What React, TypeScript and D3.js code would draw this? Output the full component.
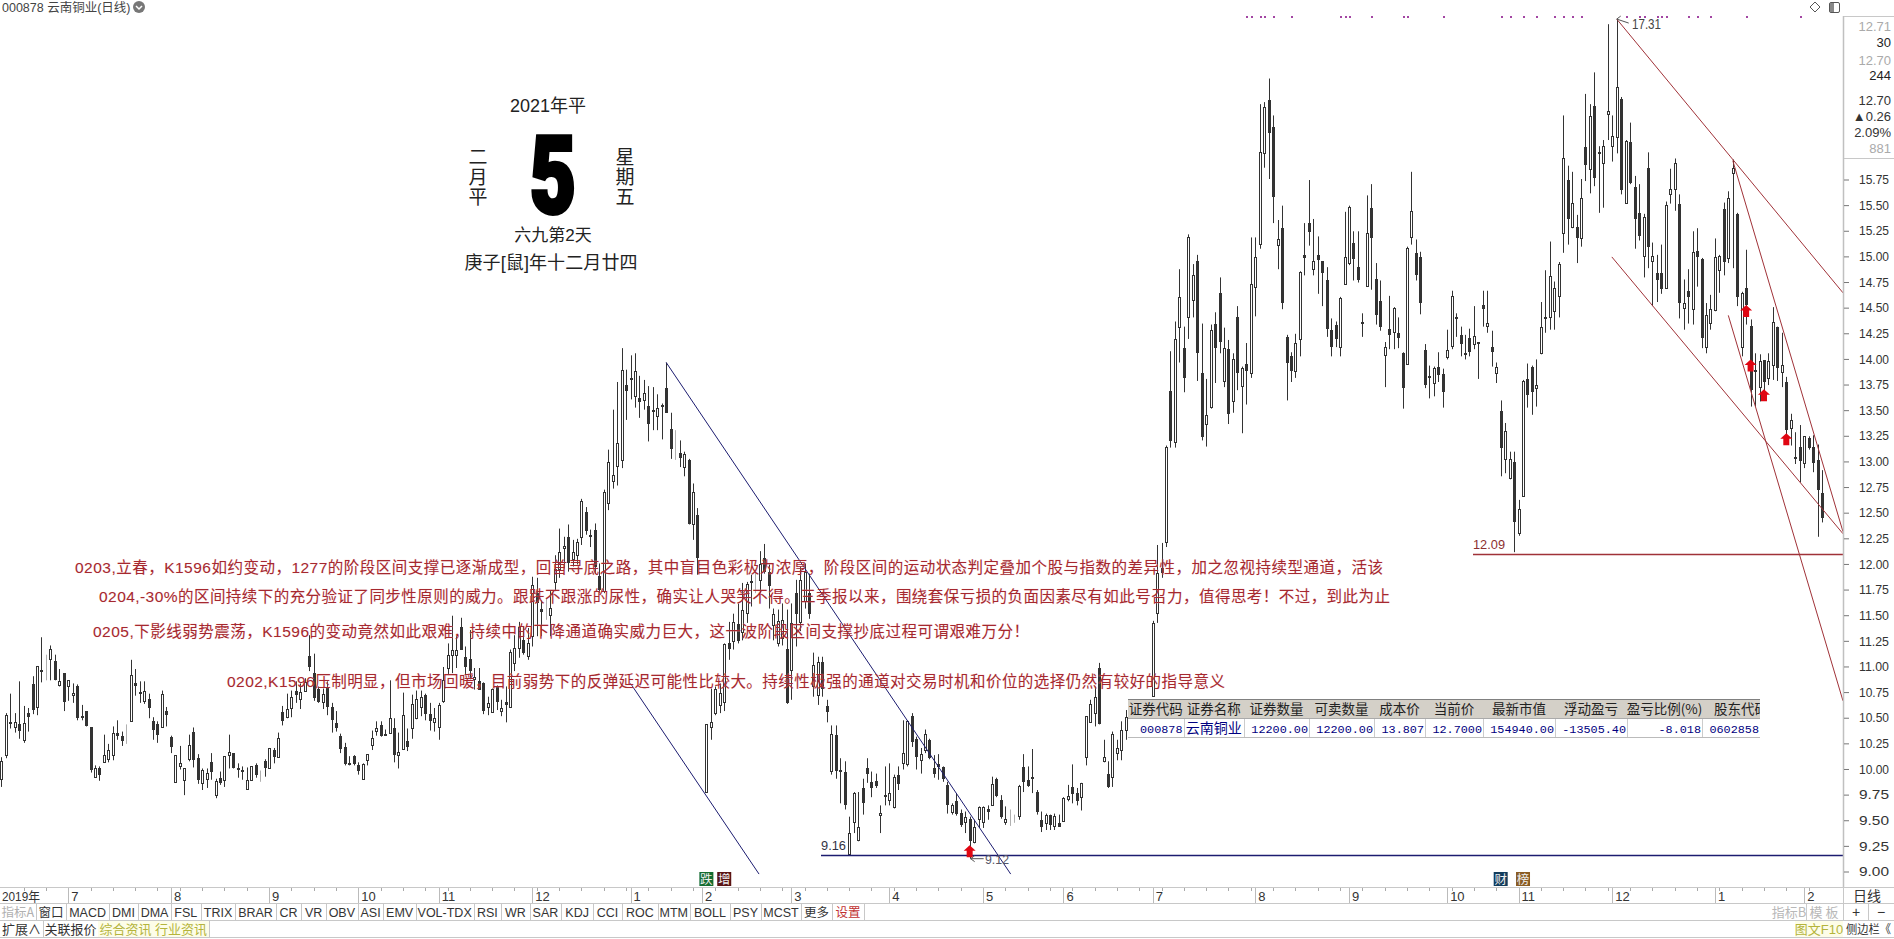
import * as d3 from "d3";
import { useEffect, useRef } from "react";

type Bar = [number, number, number, number] | null;

// daily bars as [open, high, low, close], null where nothing can be seen
const bars2019a: Bar[] = [
  [9.90,10.11,9.82,10.07],[10.13,10.54,10.10,10.52],[10.45,10.73,10.39,10.43],[10.40,10.54,10.35,10.45],[10.43,10.85,10.29,10.37],
  [10.28,10.61,10.25,10.44],[10.54,10.59,10.36,10.50],[10.82,10.90,10.53,10.57],[10.60,11.00,10.52,11.00],[10.96,11.28,10.84,10.94],
  [10.98,11.11,10.86,10.97],[11.07,11.20,10.86,11.17],[11.05,11.11,10.86,10.86],[10.81,10.97,10.80,10.85],[10.93,10.93,10.56,10.65],
  [10.80,10.86,10.66,10.86],[10.72,10.83,10.64,10.74],[10.80,10.82,10.47,10.49],[10.51,10.62,10.47,10.50],[10.56,10.56,10.41,10.41],
  [10.40,10.40,9.96,9.99],[9.92,10.03,9.92,10.00],[10.00,10.02,9.88,9.94],[10.06,10.33,10.06,10.13],[10.09,10.24,10.06,10.18],
  [10.13,10.41,10.08,10.35],[10.35,10.47,10.28,10.32],[10.32,10.36,10.22,10.27],[10.25,10.43,10.24,10.24],[10.46,11.06,10.46,10.91],
  [10.83,10.97,10.71,10.80],[10.75,10.85,10.64,10.74],[10.66,10.85,10.63,10.76],[10.68,10.73,10.49,10.59],[10.46,10.50,10.28,10.38],
  [10.43,10.46,10.25,10.33],[10.40,10.76,10.40,10.73],[10.56,10.60,10.41,10.52],[10.31,10.32,10.15,10.21],[9.87,10.13,9.87,10.13],
  [10.02,10.22,9.99,10.05],[9.89,10.00,9.74,10.00],[10.09,10.33,10.07,10.23],[10.36,10.40,10.01,10.08],[10.10,10.14,9.85,9.89],
  [9.86,10.00,9.79,9.99],[9.90,10.00,9.81,9.96],[10.06,10.15,9.89,9.97],[9.74,9.90,9.71,9.88],[9.91,9.97,9.84,9.86],
  [9.89,10.12,9.82,10.12],[10.13,10.33,10.00,10.16],[10.15,10.15,10.00,10.00],[10.00,10.05,9.91,9.99],[9.99,10.02,9.89,9.98],
  [9.80,10.01,9.79,9.89],[9.89,10.02,9.89,10.02],[10.03,10.05,9.91,9.94],[9.92,9.98,9.87,9.91],[10.07,10.09,9.92,10.00],
  [10.00,10.20,10.00,10.20],[10.18,10.20,10.05,10.11],[10.11,10.35,10.11,10.30],[10.55,10.61,10.42,10.46],[10.50,10.73,10.49,10.58],
  [10.59,10.76,10.50,10.70],[10.76,10.85,10.64,10.72],[10.68,10.83,10.58,10.75],[10.76,10.88,10.75,10.84],[11.10,11.30,10.95,10.99],
  [10.93,11.12,10.66,10.69],[10.78,10.80,10.64,10.65],[10.65,10.78,10.58,10.73],[10.79,10.85,10.52,10.60],[10.60,10.64,10.35,10.47],
  [10.44,10.56,10.36,10.39],[10.32,10.34,10.15,10.19],[10.21,10.25,10.03,10.04],[10.05,10.12,10.03,10.04],[10.12,10.13,10.03,10.04],
  [10.03,10.06,9.94,9.98],[9.90,10.05,9.90,10.04],[10.08,10.14,10.03,10.14],[10.23,10.37,10.18,10.30],[10.37,10.46,10.32,10.39],
  [10.42,10.46,10.31,10.32],[10.34,10.38,10.32,10.32],[10.35,10.86,10.34,10.49],[10.39,10.49,10.06,10.13],[10.13,10.35,10.00,10.16],
  [10.19,10.74,10.18,10.52],[10.27,10.39,10.17,10.21],[10.39,10.72,10.29,10.63],[10.49,10.76,10.48,10.68],[10.60,10.76,10.51,10.70],
  [10.72,10.73,10.47,10.53],[10.53,10.64,10.37,10.46],[10.45,10.59,10.36,10.49],[10.40,10.64,10.28,10.62],[10.66,10.99,10.64,10.86],
  [10.98,11.22,10.92,11.11],[11.11,11.49,10.93,11.16],[11.11,11.29,10.98,11.16],[11.38,11.47,11.16,11.16],[11.09,11.19,10.91,10.99],
  [11.07,11.35,10.87,10.95],[10.87,10.98,10.77,10.89],[10.85,10.98,10.77,10.77],[10.83,10.84,10.53,10.56],[10.60,10.70,10.52,10.64],
  [10.55,10.78,10.55,10.78],[10.80,10.81,10.57,10.65],[10.56,10.67,10.51,10.59],[10.65,10.80,10.45,10.62],[10.60,11.16,10.59,11.14],
  [11.03,11.30,10.95,11.18],[11.18,11.43,11.08,11.38],[11.25,11.38,11.11,11.13],[11.10,11.37,11.06,11.22],[11.29,11.87,11.19,11.79],
  [11.71,11.86,11.29,11.61],[11.56,11.64,11.29,11.53],[11.58,11.66,11.45,11.57],[11.50,11.74,11.29,11.57],[11.82,12.08,11.73,11.95],
  [11.95,12.34,11.86,12.11],[12.15,12.26,11.95,12.17],[12.26,12.38,11.92,12.00],[12.04,12.23,11.97,12.11],[12.08,12.24,11.99,12.21],
  [12.26,12.63,12.18,12.61],[12.50,12.55,12.28,12.32],[12.28,12.33,12.16,12.27],[12.33,12.39,11.90,11.97],[11.88,12.00,11.71,11.74],
  [11.73,12.72,11.71,12.70],
];

const bars2020a: Bar[] = [
  [12.59,13.11,12.52,12.99],[12.80,13.50,12.73,12.86],[12.95,13.77,12.76,13.17],[13.01,14.10,12.93,13.89],[13.74,13.89,13.40,13.68],
  [13.81,14.03,13.60,13.80],[13.63,14.05,13.52,13.88],[13.61,13.83,13.42,13.57],[13.59,13.79,13.50,13.66],[13.54,13.73,13.19,13.36],
  [13.50,13.72,13.30,13.48],[13.44,13.65,13.30,13.52],[13.55,13.56,13.21,13.55],[13.71,13.96,13.47,13.47],[13.31,13.47,13.02,13.12],
  [13.13,13.30,13.01,13.12],[13.08,13.20,12.94,13.03],[12.94,13.09,12.85,13.07],[13.01,13.02,12.38,12.38],[12.38,12.78,12.23,12.70],
  [12.47,12.54,11.89,12.05],null,[9.77,10.43,9.77,10.43],[10.40,10.78,10.28,10.45],[10.54,10.80,10.52,10.78],
  [10.62,10.83,10.54,10.74],[10.65,11.22,10.56,11.21],[11.22,11.43,11.06,11.17],[11.24,11.51,11.16,11.43],[11.41,11.61,11.22,11.24],
  [11.33,11.81,11.25,11.55],[11.52,11.82,11.42,11.80],[11.83,11.89,11.58,11.81],[11.82,11.92,11.71,11.81],[11.84,12.12,11.71,11.99],
  [12.05,12.19,11.90,11.92],[11.92,11.99,11.56,11.78],[11.40,11.56,11.25,11.51],[11.22,11.55,11.19,11.44],[11.27,11.61,11.20,11.45],
  [11.17,11.55,10.63,10.64],[10.96,11.61,10.67,11.42],[11.71,11.84,11.19,11.51],[11.43,11.97,11.34,11.84],[11.63,12.00,11.56,11.92],
  [11.71,11.90,11.46,11.51],[10.80,11.13,10.70,11.01],[10.72,11.09,10.62,11.04],[11.04,11.09,10.70,10.78],[10.61,10.67,10.45,10.55],
  [9.98,10.42,9.94,10.34],[10.33,10.42,9.90,9.98],[9.99,10.10,9.66,9.98],[9.97,10.07,9.60,9.64],[9.17,9.53,9.16,9.37],
  [9.48,9.77,9.37,9.76],[9.30,9.77,9.29,9.43],[9.81,9.90,9.55,9.66],[10.00,10.10,9.86,9.95],[9.87,9.97,9.72,9.81],
  [9.88,9.95,9.81,9.83],[9.55,9.64,9.37,9.57],[9.74,10.02,9.64,9.74],[9.69,10.05,9.64,9.76],[9.62,9.94,9.61,9.92],
  [9.94,10.02,9.79,9.85],[10.05,10.47,9.99,10.15],[10.04,10.47,10.02,10.46],[10.51,10.54,10.21,10.26],[10.29,10.31,9.99,10.11],
  [10.08,10.20,9.95,10.14],[10.18,10.38,10.15,10.34],[10.28,10.29,10.09,10.10],[10.00,10.13,9.91,9.95],[10.04,10.14,9.89,10.01],
  [10.01,10.02,9.87,9.90],[9.84,9.87,9.56,9.64],[9.58,9.66,9.55,9.64],[9.68,9.76,9.54,9.56],[9.57,9.60,9.43,9.45],
  [9.48,9.58,9.37,9.53],[9.51,9.53,9.12,9.29],[9.28,9.50,9.27,9.43],[9.51,9.63,9.42,9.62],[9.48,9.63,9.42,9.62],
  [9.60,9.64,9.50,9.58],[9.64,9.92,9.64,9.85],[9.90,9.91,9.72,9.73],[9.69,9.74,9.51,9.53],[9.48,9.63,9.45,9.51],
  [9.51,9.60,9.44,9.50],[9.50,9.55,9.47,9.49],[9.54,9.84,9.50,9.83],[10.01,10.14,9.77,9.87],[9.89,10.02,9.82,9.83],
  [9.92,10.19,9.76,9.90],[9.77,9.79,9.55,9.58],[9.50,9.58,9.38,9.43],[9.47,9.56,9.40,9.55],[9.55,9.55,9.40,9.45],
  [9.44,9.56,9.40,9.54],[9.47,9.55,9.43,9.43],[9.49,9.72,9.48,9.71],[9.70,9.84,9.68,9.73],[9.82,10.04,9.66,9.75],
  [9.76,9.81,9.64,9.68],[9.72,9.86,9.59,9.86],[10.11,10.51,10.03,10.51],[10.45,10.67,10.45,10.63],[10.54,10.80,10.41,10.70],
  [10.98,11.03,10.43,10.43],[10.07,10.28,10.06,10.11],[9.95,10.07,9.81,9.82],[9.92,10.36,9.82,10.34],[10.15,10.28,10.08,10.20],
  [10.18,10.46,10.08,10.38],[10.38,10.57,10.28,10.50],null,null,null,null,null,
];

const bars2020b: Bar[] = [
  [10.71,11.44,10.70,11.42],[11.52,12.18,11.42,11.91],[11.96,12.20,11.86,11.91],[12.21,13.15,12.16,13.14],[13.68,14.07,13.13,13.19],
  [13.18,14.36,13.13,14.19],[14.31,14.87,13.96,14.60],[14.10,14.31,13.67,13.81],[14.40,15.21,14.19,15.18],[14.57,14.92,14.40,14.81],
  [14.95,15.01,13.78,14.05],[13.86,14.34,13.20,13.23],[13.36,13.80,13.14,13.45],[13.53,14.33,13.51,14.28],[14.34,14.45,13.76,14.10],
  [14.64,14.79,14.05,14.16],[13.78,14.30,13.72,14.10],[14.09,14.18,13.36,13.46],[13.58,14.05,13.47,13.99],[14.40,14.51,13.69,13.86],
  [13.73,13.92,13.27,13.91],[13.95,14.15,13.55,13.88],[13.86,15.18,13.81,14.73],[14.70,15.18,14.41,14.99],[15.12,16.48,15.07,16.01],
  [16.00,16.50,15.86,16.45],[16.52,16.73,15.75,16.20],[16.26,16.37,15.32,15.57],[15.11,15.35,14.87,15.16],[15.27,15.49,14.48,14.54],
  [14.21,14.23,13.59,13.96],[14.02,14.06,13.77,13.88],[13.88,14.24,13.81,14.15],[14.19,14.85,14.02,14.84],[15.01,15.32,14.81,14.98],
  [15.32,15.74,15.10,15.23],[14.87,15.36,14.81,14.95],[15.01,15.19,14.63,14.96],[14.95,14.95,14.51,14.83],[14.76,14.89,14.21,14.29],
  [14.28,14.39,14.02,14.11],[14.33,14.36,14.11,14.19],[14.11,14.60,14.02,14.59],[14.73,15.43,14.72,14.99],[14.93,15.49,14.91,15.48],
  [15.13,15.24,14.76,14.97],[14.89,15.24,14.74,14.76],[14.35,14.44,14.21,14.36],[14.71,15.59,14.70,15.22],[15.47,15.70,14.67,15.17],
  [14.77,14.93,14.33,14.42],[14.56,14.76,14.27,14.31],[14.03,14.16,13.72,14.11],[14.29,14.61,14.09,14.23],[14.26,14.50,14.09,14.49],
  [14.25,14.40,14.10,14.20],[14.05,14.06,13.51,13.71],[13.95,15.09,13.94,15.08],[15.18,15.82,15.11,15.44],[15.03,15.16,14.76,14.81],
  [14.99,15.04,14.43,14.54],[14.08,14.14,13.71,13.74],[13.83,13.93,13.61,13.81],[13.76,13.92,13.63,13.91],[13.92,14.06,13.77,13.84],
  [13.85,13.90,13.52,13.67],[14.01,14.28,13.99,14.08],[14.12,14.66,14.09,14.61],[14.40,14.44,14.21,14.39],[14.23,14.31,14.02,14.14],
  [14.05,14.23,13.99,14.03],[14.20,14.29,14.02,14.06],[14.14,14.51,14.09,14.22],[14.16,14.16,13.80,14.14],[14.52,14.66,14.31,14.48],
  [14.32,14.66,14.25,14.35],[14.11,14.27,13.92,14.06],[13.86,13.96,13.76,13.92],[13.49,13.59,12.85,13.13],[13.02,13.37,12.88,13.29],
  [12.83,13.09,12.82,13.02],[12.99,13.09,12.11,12.40],[12.30,12.62,12.27,12.53],[12.66,13.79,12.65,13.78],[13.80,13.95,13.52,13.64],
  [13.92,13.93,13.45,13.67],[13.71,13.99,13.53,13.74],[14.05,14.55,14.04,14.31],[14.40,14.86,14.25,14.38],[14.40,15.14,14.28,14.80],
  [14.46,14.75,14.28,14.69],[14.61,14.94,14.40,14.92],[15.22,16.37,15.03,15.95],[15.74,15.88,15.11,15.36],[15.28,15.82,15.27,15.52],
  [15.28,15.40,14.93,15.17],[15.17,15.75,15.09,15.56],[16.06,16.58,15.73,15.89],[15.85,16.48,15.61,16.36],[16.46,16.79,15.68,15.76],
  [16.01,16.07,15.42,16.00],[15.91,16.13,15.47,16.07],[16.38,17.26,16.13,16.41],[16.07,16.37,15.92,16.17],[16.16,17.31,16.00,16.65],
  [16.53,16.55,15.60,15.64],[15.52,16.13,15.51,16.12],[16.11,16.30,15.70,15.71],[15.67,15.78,15.07,15.36],[15.42,15.70,15.15,15.19],
  [15.00,15.41,14.79,15.38],[15.86,16.01,14.88,15.09],[14.95,15.13,14.51,15.00],[14.83,15.01,14.55,14.76],[14.83,15.11,14.63,14.68],
  [14.69,15.53,14.68,15.50],[15.60,15.85,15.51,15.65],[15.65,15.95,15.44,15.91],[15.51,15.60,14.39,14.54],[14.49,14.77,14.28,14.54],
  [14.66,14.87,14.34,14.60],[14.48,15.24,14.33,15.04],[15.05,15.27,14.70,14.99],[14.97,14.98,14.10,14.20],[14.11,14.54,14.05,14.42],
  [14.35,14.62,14.28,14.48],
];

const bars2021: Bar[] = [
  [14.47,15.17,14.46,14.99],[14.86,15.01,14.64,15.00],[15.46,15.52,14.81,14.94],[14.98,15.63,14.93,15.56],[15.81,15.94,14.88,15.86],
  [15.41,15.42,14.51,14.60],[14.11,14.65,14.02,14.64],[14.69,15.06,14.33,14.52],[14.32,14.38,13.53,13.69],[13.89,14.05,13.53,13.88],
  [13.72,14.04,13.58,13.97],[13.98,13.98,13.64,13.77],[13.81,14.05,13.74,13.97],[13.94,14.50,13.79,14.36],[14.31,14.31,13.78,13.91],
  [13.87,14.25,13.72,13.94],[13.77,13.82,13.20,13.30],[13.32,13.46,13.15,13.40],[13.04,13.28,12.97,13.03],[13.14,13.35,12.79,13.00],
  [12.98,13.24,12.93,13.24],[13.22,13.24,13.11,13.13],[13.14,13.25,12.89,12.98],[13.01,13.16,12.26,12.72],[12.69,12.91,12.40,12.44],
];

const bars: Bar[] = [...bars2019a, ...bars2020a, ...bars2020b, ...bars2021];

// bars drawn as a pale line only
const paleBars = [10, 28, 58, 122, 151, 169, 226, 227];
// purple marks along the top edge
const signalBars = [279, 280, 282, 283, 285, 289, 300, 301, 302, 307, 314, 315, 323, 336, 338, 341, 344, 348, 350, 352, 354, 364, 367, 368, 371, 372, 373, 378, 380, 383, 391, 403];
// red up arrows: bar and price at the arrow tip
const arrowBars = [217, 391, 392, 395, 400];
const arrowTips = [9.25, 14.52, 13.99, 13.70, 13.27];

const priceTicks = d3.range(9, 15.76, 0.25);
const monthLabels = ["7", "8", "9", "10", "11", "12", "1", "2", "3", "4", "5", "6", "7", "8", "9", "10", "11", "12", "1", "2"];
const monthBars = [15, 38, 60, 80, 98, 119, 141, 157, 177, 199, 220, 238, 258, 281, 302, 324, 340, 361, 384, 404];

// trend lines: [bar, price, bar, price]
const navyLines = [
  [149, 13.96, 226.2, 8.97],
  [141, 10.83, 169.8, 8.97],
];
const redLines = [
  [362, 17.31, 412.7, 14.64],
  [360.9, 14.99, 412.7, 12.29],
  [388, 15.93, 412.7, 12.31],
  [387, 14.42, 412.7, 10.66],
];

const notes = [
  "0203,立春，K1596如约变动，1277的阶段区间支撑已逐渐成型，回首寻底之路，其中盲目色彩极为浓厚，阶段区间的运动状态判定叠加个股与指数的差异性，加之忽视持续型通道，活该",
  "0204,-30%的区间持续下的充分验证了同步性原则的威力。跟跌不跟涨的尿性，确实让人哭笑不得。三季报以来，围绕套保亏损的负面因素尽有如此号召力，值得思考！不过，到此为止",
  "0205,下影线弱势震荡，K1596的变动竟然如此艰难，持续中的下降通道确实威力巨大，这一波阶段区间支撑抄底过程可谓艰难万分！",
  "0202,K1596压制明显，但市场回暖，目前弱势下的反弹延迟可能性比较大。持续性极强的通道对交易时机和价位的选择仍然有较好的指导意义",
];
const noteBoxes = [[75, 573, 1308], [99, 602, 1291], [93, 637, 936], [227, 687, 998]];

const toolTabs = ["指标A", "窗口", "MACD", "DMI", "DMA", "FSL", "TRIX", "BRAR", "CR", "VR", "OBV", "ASI", "EMV", "VOL-TDX", "RSI", "WR", "SAR", "KDJ", "CCI", "ROC", "MTM", "BOLL", "PSY", "MCST", "更多", "设置"];
const toolEdges = [0, 35.6, 66.4, 108.7, 138.3, 170.8, 200.8, 235.2, 275.9, 301.2, 326, 357.7, 383.4, 415.8, 473.5, 501.2, 529.6, 561.3, 593, 622, 657.6, 690, 730, 761, 801, 832, 864];
const lowerTabs = ["扩展∧", "关联报价", "综合资讯", "行业资讯"];
const lowerEdges = [0, 43, 98, 153, 209];

const tableHead = ["证券代码", "证券名称", "证券数量", "可卖数量", "成本价", "当前价", "最新市值", "浮动盈亏", "盈亏比例(%)", "股东代码"];
const tableRow = ["000878", "云南铜业", "12200.00", "12200.00", "13.807", "12.7000", "154940.00", "-13505.40", "-8.018", "0602858"];
const tableEdges = [1128, 1183.5, 1244, 1309, 1374, 1425, 1483, 1555, 1627, 1702, 1760];

const sideLabels = [["12.71", "#aaa"], ["30", "#222"], ["12.70", "#aaa"], ["244", "#222"], ["12.70", "#333"], ["▲0.26", "#333"], ["2.09%", "#333"], ["881", "#aaa"]];
const sideY = [26, 42, 60, 75, 100, 116, 132, 148];

const badges = [["跌", 158, "#146b30"], ["增", 162, "#5a1414"], ["财", 336, "#123c5c"], ["榜", 341, "#8a5c24"]];

const ink = "#333";
const font = '"Liberation Sans","Noto Sans CJK SC",sans-serif';
const cjk = '"Noto Sans CJK SC",sans-serif';

const x = d3.scaleLinear().domain([0, 408]).range([1.3, 1822]);
const y = d3.scaleLinear().domain([9, 15.75]).range([871, 179]);
const snap = (v: number) => Math.round(v) + 0.5;

export default function App() {
  const axisRef = useRef<SVGGElement>(null);

  useEffect(() => {
    const g = d3.select(axisRef.current);
    g.call(
      d3.axisRight(y).tickValues(priceTicks).tickSize(5).tickSizeOuter(0).tickFormat(d3.format(".2f")) as any
    );
    g.select(".domain").remove();
    g.selectAll("line").attr("stroke", "#777");
    g.selectAll("text")
      .attr("x", 45)
      .attr("text-anchor", "end")
      .attr("font-family", font)
      .attr("font-size", 13)
      .attr("fill", "#333")
      .attr("textLength", 30)
      .attr("lengthAdjust", "spacingAndGlyphs");
  }, []);

  return (
    <svg
      width={1894}
      height={939}
      style={{ position: "fixed", left: 0, top: 0, background: "#fff" }}
      fontFamily={font}
    >
      {/* candles */}
      {bars.map((b, i) => {
        if (!b) return null;
        const [o, h, l, c] = b;
        const cx = snap(x(i));
        const pale = paleBars.includes(i);
        const up = c >= o;
        const top = Math.round(y(Math.max(o, c)));
        const bot = Math.round(y(Math.min(o, c)));
        return (
          <g key={i}>
            <line x1={cx} x2={cx} y1={y(h)} y2={y(l)} stroke={pale ? "#b0b0b0" : ink} />
            {pale ? null : bot - top < 2 ? (
              <rect x={cx - 1.5} y={top} width={3} height={2} fill={ink} />
            ) : up ? (
              <rect x={cx - 1} y={top + 0.5} width={2} height={bot - top} fill="#fff" stroke={ink} />
            ) : (
              <rect x={cx - 1.5} y={top} width={3} height={bot - top} fill={ink} />
            )}
          </g>
        );
      })}

      {signalBars.map((b) => (
        <rect key={b} x={Math.round(x(b))} y={16} width={2} height={2} fill="#a346a3" />
      ))}

      {/* trend lines */}
      {navyLines.map((d, i) => (
        <line key={i} x1={x(d[0])} y1={y(d[1])} x2={x(d[2])} y2={y(d[3])} stroke="#1c1c70" strokeWidth={1} />
      ))}
      {redLines.map((d, i) => (
        <line key={i} x1={x(d[0])} y1={y(d[1])} x2={x(d[2])} y2={y(d[3])} stroke="#a03238" strokeWidth={1} />
      ))}
      <line x1={821} x2={1844} y1={snap(y(9.16))} y2={snap(y(9.16))} stroke="#1c1c70" strokeWidth={1.5} />
      <line x1={1473} x2={1844} y1={snap(y(12.09))} y2={snap(y(12.09))} stroke="#a03238" strokeWidth={1.5} />
      <text x={821} y={850} fontSize={13} fill="#334" textLength={25} lengthAdjust="spacingAndGlyphs">9.16</text>
      <text x={1473} y={549} fontSize={13} fill="#8c3030" textLength={32} lengthAdjust="spacingAndGlyphs">12.09</text>

      {/* extreme labels */}
      <path d={`M${x(217) + 1},${y(9.12)}h13 M${x(217) + 1},${y(9.12)}l4,-3 M${x(217) + 1},${y(9.12)}l4,3`} stroke="#555" fill="none" />
      <text x={985} y={864} fontSize={13} fill="#556" textLength={24} lengthAdjust="spacingAndGlyphs">9.12</text>
      <path d={`M${x(362)},${y(17.31)}l12,4 M${x(362)},${y(17.31)}l4,-3`} stroke="#555" fill="none" />
      <text x={1632} y={29} fontSize={14} fill="#444" textLength={29} lengthAdjust="spacingAndGlyphs">17.31</text>

      {arrowBars.map((b, i) => {
        const ax = x(b);
        const ay = y(arrowTips[i]);
        return (
          <path
            key={b}
            d={`M${ax},${ay}l6,5.5h-3v6.5h-6v-6.5h-3z`}
            fill="#e00612"
          />
        );
      })}

      {/* position table */}
      <rect x={1128} y={700} width={632} height={18} fill="#d4d0c8" />
      <rect x={1128} y={718} width={632} height={19} fill="#fff" />
      <line x1={1128} x2={1760} y1={699.5} y2={699.5} stroke="#808080" />
      <line x1={1128} x2={1760} y1={718.5} y2={718.5} stroke="#aaa" />
      <line x1={1128} x2={1760} y1={737.5} y2={737.5} stroke="#bbb" />
      <clipPath id="tableClip"><rect x={1128} y={699} width={632} height={40} /></clipPath>
      <g clipPath="url(#tableClip)">
        {tableHead.map((t, i) => (
          <text
            key={t}
            x={(tableEdges[i] + tableEdges[i + 1]) / 2 + (i === 9 ? 10 : 0)}
            y={714}
            fontSize={13.5}
            fontFamily={cjk}
            fill="#222"
            textAnchor="middle"
          >
            {t}
          </text>
        ))}
        {tableRow.map((t, i) => (
          <text
            key={t + i}
            x={i === 1 ? (tableEdges[1] + tableEdges[2]) / 2 : tableEdges[i + 1] - 1}
            y={733}
            fontSize={i === 1 ? 14 : 11.8}
            fontFamily={i === 1 ? cjk : '"Liberation Mono",monospace'}
            fill="#000080"
            textAnchor={i === 1 ? "middle" : "end"}
          >
            {t}
          </text>
        ))}
        {tableEdges.slice(1, -1).map((e) => (
          <line key={e} x1={snap(e)} x2={snap(e)} y1={719} y2={737} stroke="#ccc" />
        ))}
      </g>

      {/* notes over the chart */}
      {notes.map((t, i) => (
        <text
          key={i}
          x={noteBoxes[i][0]}
          y={noteBoxes[i][1]}
          fontSize={15.5}
          fill="#a5282f"
          stroke="rgba(245,190,190,0.35)"
          strokeWidth={0.7}
          paintOrder="stroke"
          textLength={noteBoxes[i][2]}
          lengthAdjust="spacing"
        >
          {t}
        </text>
      ))}

      {/* calendar */}
      <g fill="#222" textAnchor="middle" fontSize={18}>
        <text x={548} y={112}>2021年平</text>
        <text
          x={478}
          y={147}
          fontFamily={cjk}
          fontSize={19}
          letterSpacing={1}
          textAnchor="start"
          style={{ writingMode: "vertical-rl" }}
        >
          二月平
        </text>
        <text
          x={625}
          y={147}
          fontFamily={cjk}
          fontSize={19}
          letterSpacing={1}
          textAnchor="start"
          style={{ writingMode: "vertical-rl" }}
        >
          星期五
        </text>
        <text x={553} y={241} fontSize={17}>六九第2天</text>
        <text x={551} y={269} textLength={173} lengthAdjust="spacing">庚子[鼠]年十二月廿四</text>
        <text
          transform="translate(553,213) scale(0.74,1)"
          fontFamily='"Roboto","Liberation Sans",sans-serif'
          fontWeight={900}
          fontSize={108}
          fill="#000"
          stroke="#000"
          strokeWidth={4}
        >
          5
        </text>
      </g>

      {/* title */}
      <text x={2} y={12} fontSize={12.5} fill="#444">000878 云南铜业(日线)</text>
      <circle cx={139} cy={7} r={6} fill="#777" />
      <path d="M136,6l3,3l3,-3" stroke="#fff" strokeWidth={1.5} fill="none" />
      <path d="M1815,2l5,5l-5,5l-5,-5z" stroke="#555" fill="#fff" />
      <rect x={1829.5} y={2.5} width={10} height={10} rx={1.5} stroke="#555" fill="#fff" />
      <rect x={1830} y={3} width={4} height={9} fill="#888" />

      {/* right panel */}
      <line x1={1843.5} x2={1843.5} y1={16} y2={887} stroke="#c0c0c0" strokeWidth={1.5} />
      <line x1={1844} x2={1894} y1={16.5} y2={16.5} stroke="#c8c8c8" />
      <line x1={1844} x2={1894} y1={158.5} y2={158.5} stroke="#c8c8c8" />
      {sideLabels.map(([t, c], i) => (
        <text key={i} x={1891} y={sideY[i] + 5} textAnchor="end" fontSize={13} fill={c}>{t}</text>
      ))}
      <g ref={axisRef} transform="translate(1844,0.5)" />

      {/* time axis */}
      <line x1={0} x2={1894} y1={887.5} y2={887.5} stroke="#c8c8c8" />
      <line x1={0} x2={1894} y1={903.5} y2={903.5} stroke="#c8c8c8" />
      <line x1={0} x2={1894} y1={920.5} y2={920.5} stroke="#c8c8c8" />
      <line x1={0} x2={1894} y1={937.5} y2={937.5} stroke="#c8c8c8" />
      {d3.range(5, 408, 5).map((b) => (
        <line key={b} x1={snap(x(b))} x2={snap(x(b))} y1={888} y2={891} stroke="#aaa" />
      ))}
      <text x={2} y={901} fontSize={13} fill="#333" textLength={38} lengthAdjust="spacingAndGlyphs">2019年</text>
      {monthBars.map((b, i) => (
        <g key={b}>
          <line x1={snap(x(b))} x2={snap(x(b))} y1={888} y2={903} stroke="#bbb" />
          <text x={x(b) + 3} y={901} fontSize={13} fill="#333">{monthLabels[i]}</text>
        </g>
      ))}
      <text x={1867} y={901} textAnchor="middle" fontSize={14} fontFamily={cjk} fill="#333">日线</text>

      {/* badges */}
      {badges.map(([t, b, c]) => (
        <g key={t as string}>
          <rect x={x(b as number) - 7} y={872} width={14} height={14} fill={c as string} />
          <text x={x(b as number)} y={884} textAnchor="middle" fontSize={12.5} fontFamily={cjk} fill="#eee">{t}</text>
        </g>
      ))}

      {/* tool tabs */}
      {toolTabs.map((t, i) => (
        <g key={t}>
          <line x1={snap(toolEdges[i + 1])} x2={snap(toolEdges[i + 1])} y1={904} y2={920} stroke="#c8c8c8" />
          <text
            x={(toolEdges[i] + toolEdges[i + 1]) / 2}
            y={917}
            textAnchor="middle"
            fontSize={12.5}
            fill={i === 0 ? "#b0b0b0" : i === 25 ? "#c03030" : "#333"}
            fontFamily={t.charCodeAt(0) > 255 ? cjk : font}
          >
            {t}
          </text>
        </g>
      ))}
      <text x={1789} y={917} textAnchor="middle" fontSize={13} fontFamily={cjk} fill="#b8b8b8">指标B</text>
      <text x={1824} y={917} textAnchor="middle" fontSize={13} fontFamily={cjk} fill="#b8b8b8">模 板</text>
      <line x1={1806.5} x2={1806.5} y1={904} y2={920} stroke="#ccc" />
      <line x1={1843.5} x2={1843.5} y1={887} y2={920} stroke="#c8c8c8" />
      <line x1={1868.5} x2={1868.5} y1={904} y2={920} stroke="#c8c8c8" />
      <text x={1856} y={917} textAnchor="middle" fontSize={14} fill="#333">+</text>
      <text x={1881} y={917} textAnchor="middle" fontSize={14} fill="#333">−</text>

      {lowerTabs.map((t, i) => (
        <g key={t}>
          {i >= 2 ? <rect x={lowerEdges[i]} y={921} width={lowerEdges[i + 1] - lowerEdges[i]} height={16} fill="#fdfde8" /> : null}
          <line x1={snap(lowerEdges[i + 1])} x2={snap(lowerEdges[i + 1])} y1={921} y2={937} stroke="#c8c8c8" />
          <text
            x={(lowerEdges[i] + lowerEdges[i + 1]) / 2}
            y={934}
            textAnchor="middle"
            fontSize={13}
            fontFamily={cjk}
            fill={i >= 2 ? "#b4b43c" : "#333"}
          >
            {t}
          </text>
        </g>
      ))}
      <rect x={1795} y={921} width={48} height={16} fill="#fdfde8" />
      <text x={1819} y={934} textAnchor="middle" fontSize={13} fill="#b4b43c" fontFamily={font}>图文F10</text>
      <text x={1846} y={934} fontSize={12} fontFamily={cjk} fill="#333" textLength={45} lengthAdjust="spacingAndGlyphs">侧边栏《</text>
    </svg>
  );
}
